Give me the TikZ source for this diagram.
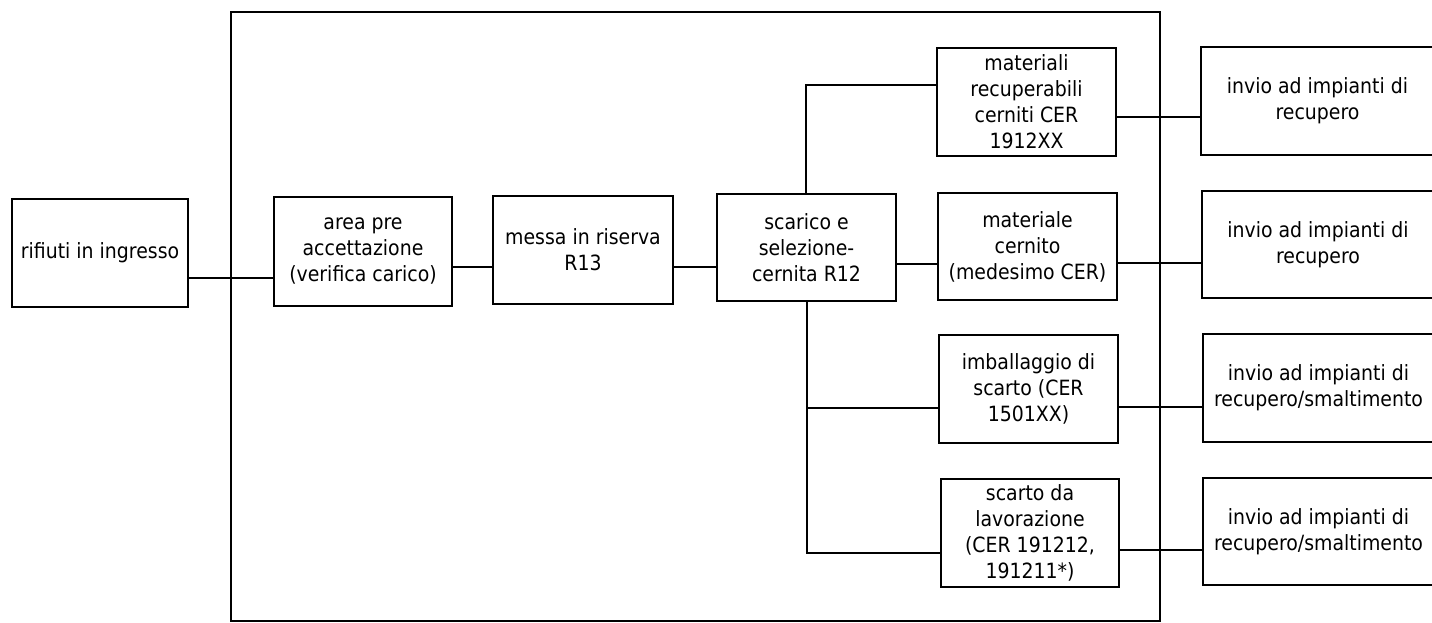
\documentclass[tikz,border=0pt]{standalone}
\usepackage{fontspec}
\setmainfont{DejaVu Sans}[FakeStretch=0.9]
\begin{document}
\begin{tikzpicture}[x=1pt,y=-1pt,
  box/.style={draw,line width=1.4pt,rectangle,inner sep=0pt,align=center,
    font=\fontsize{21}{26}\selectfont},
  conn/.style={line width=1.4pt},
  frame/.style={line width=1.6pt}]
\useasboundingbox (0,0) rectangle (1432,623);
\clip (0,0) rectangle (1432,623);
\fill[white] (0,0) rectangle (1432,623);
% frame
\draw[frame] (231,12) rectangle (1160,621);
% main chain
\node[box,minimum width=176pt,minimum height=108pt] (rif) at (100,253) {rifiuti in ingresso};
\node[box,minimum width=178pt,minimum height=109pt] (area) at (363,251.5) {area pre\\accettazione\\(verifica carico)};
\node[box,minimum width=180pt,minimum height=108pt] (messa) at (583,250) {messa in riserva\\R13};
\node[box,minimum width=179pt,minimum height=107pt] (scar) at (806.5,247.5) {scarico e\\selezione-\\cernita R12};
% outputs
\node[box,minimum width=179pt,minimum height=108pt] (m1) at (1026.5,102) {materiali\\recuperabili\\cerniti CER\\1912XX};
\node[box,minimum width=179pt,minimum height=107pt] (m2) at (1027.5,246.5) {materiale\\cernito\\(medesimo CER)};
\node[box,minimum width=179pt,minimum height=108pt] (m3) at (1028.5,389) {imballaggio di\\scarto (CER\\1501XX)};
\node[box,minimum width=178pt,minimum height=108pt] (m4) at (1030,533) {scarto da\\lavorazione\\(CER 191212,\\191211*)};
% destinations
\node[box,minimum width=233pt,minimum height=108pt] (i1) at (1317.5,101) {invio ad impianti di\\recupero};
\node[box,minimum width=232pt,minimum height=107pt] (i2) at (1318,244.5) {invio ad impianti di\\recupero};
\node[box,minimum width=231pt,minimum height=108pt] (i3) at (1318.5,388) {invio ad impianti di\\recupero/smaltimento};
\node[box,minimum width=231pt,minimum height=107pt] (i4) at (1318.5,531.5) {invio ad impianti di\\recupero/smaltimento};
% connectors
\draw[conn] (rif.east |- 0,278) -- (area.west |- 0,278);
\draw[conn] (area.east |- 0,267) -- (messa.west |- 0,267);
\draw[conn] (messa.east |- 0,267) -- (scar.west |- 0,267);
\coordinate (top) at (806,85);
\coordinate (b3) at (807,408);
\coordinate (b4) at (807,553);
\draw[conn] (scar.north -| top) -- (top) -- (m1.west |- top);
\draw[conn] (scar.east |- 0,264) -- (m2.west |- 0,264);
\draw[conn] (scar.south -| b4) -- (b4) -- (m4.west |- b4);
\draw[conn] (b3) -- (m3.west |- b3);
\draw[conn] (m1.east |- 0,117) -- (i1.west |- 0,117);
\draw[conn] (m2.east |- 0,263) -- (i2.west |- 0,263);
\draw[conn] (m3.east |- 0,407) -- (i3.west |- 0,407);
\draw[conn] (m4.east |- 0,550) -- (i4.west |- 0,550);
\end{tikzpicture}
\end{document}
